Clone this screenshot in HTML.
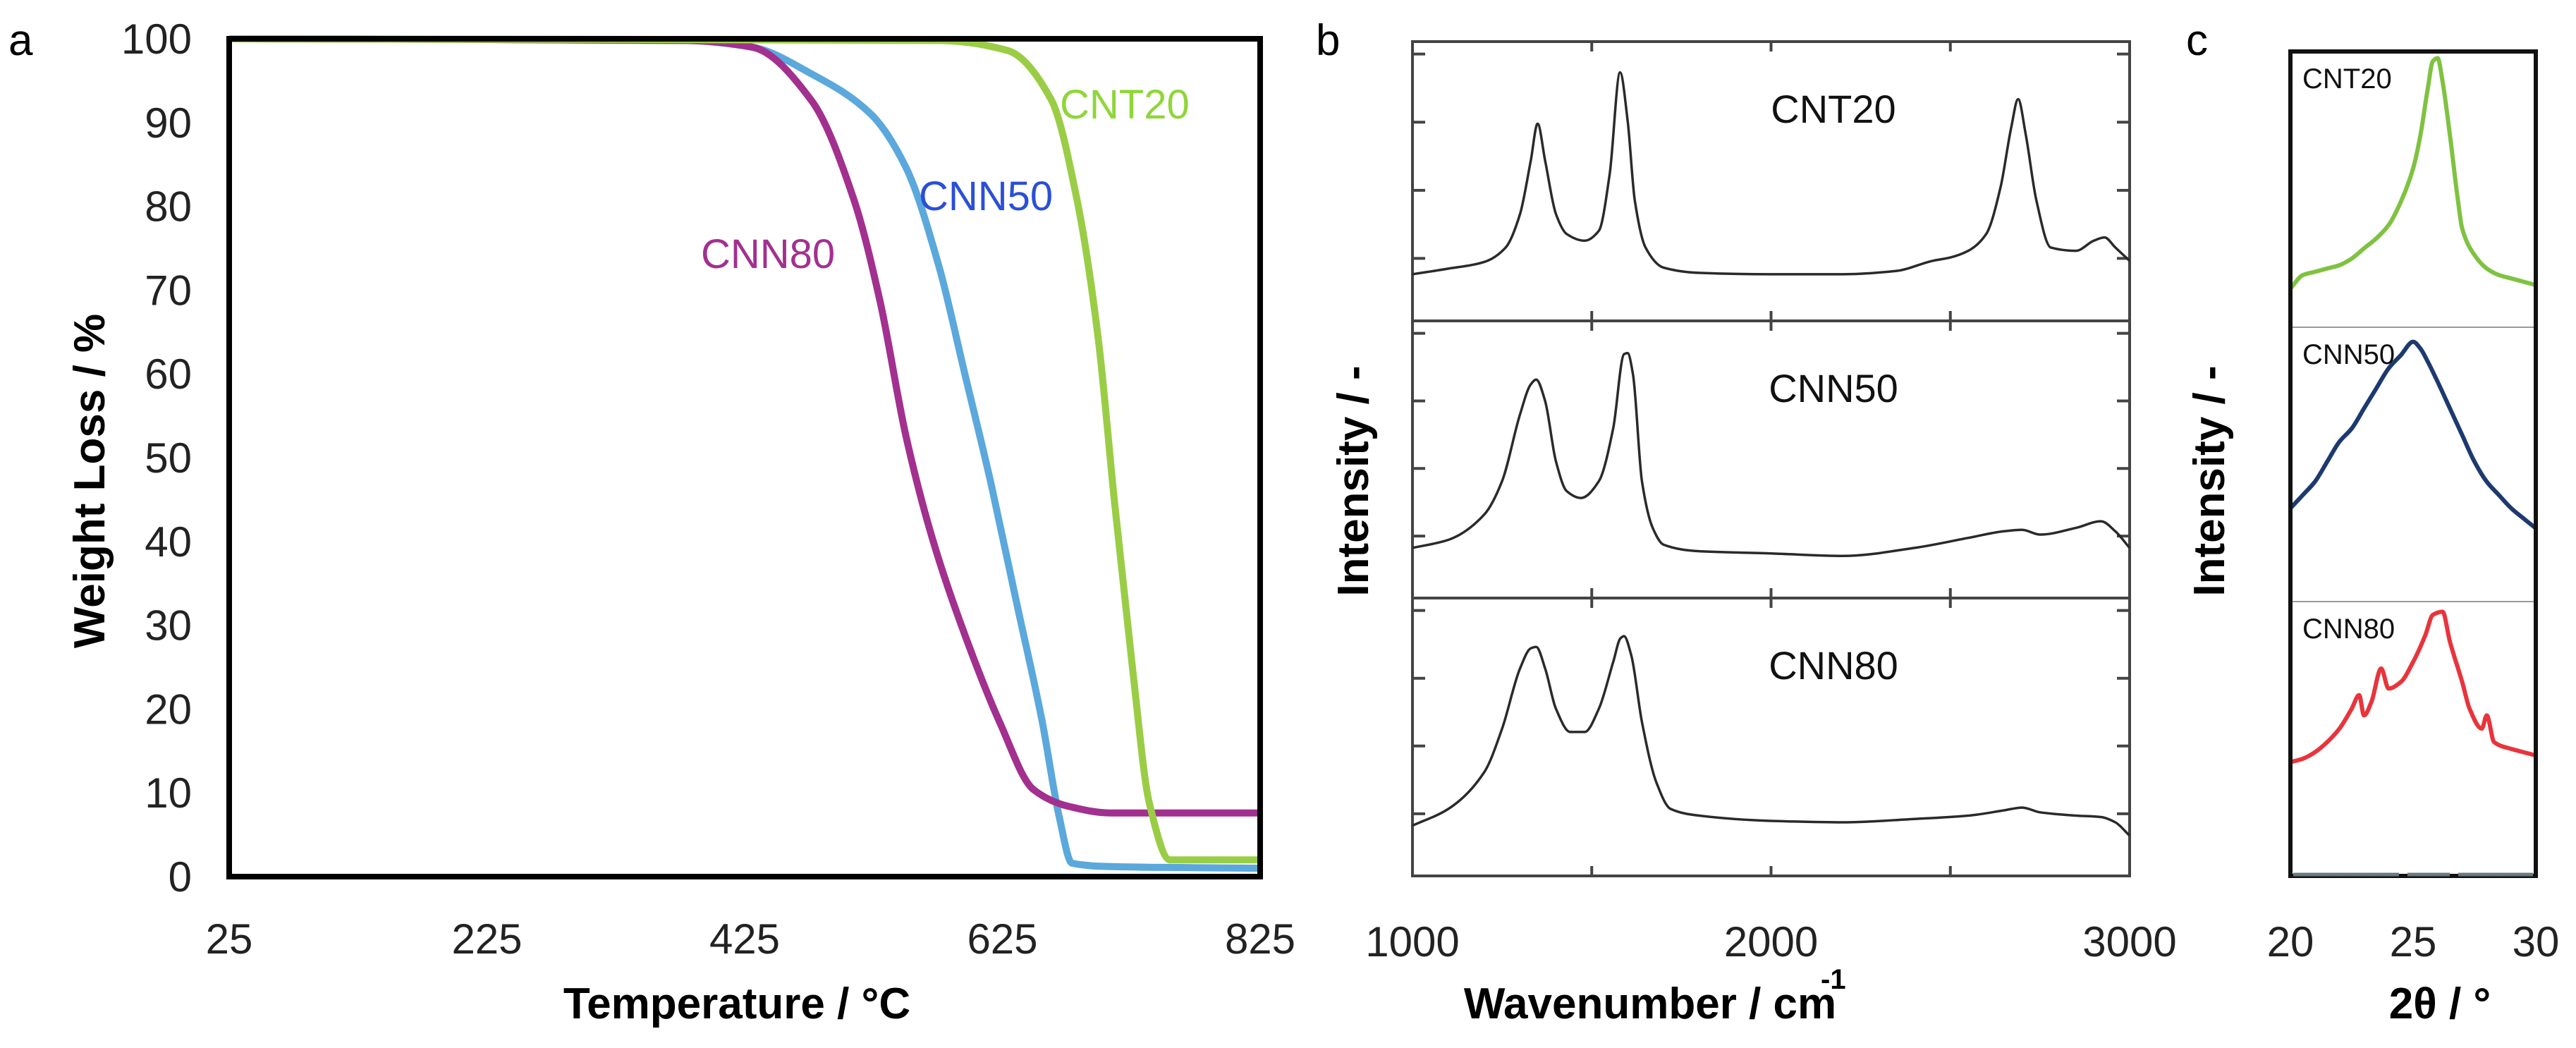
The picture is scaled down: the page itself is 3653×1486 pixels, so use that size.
<!DOCTYPE html>
<html><head><meta charset="utf-8"><style>
html,body{margin:0;padding:0;background:#fff}
svg{display:block}
text{font-family:"Liberation Sans",Arial,sans-serif}
</style></head><body>
<svg id="fig" width="3653" height="1486" viewBox="0 0 3653 1486" xmlns="http://www.w3.org/2000/svg">
<rect width="3653" height="1486" fill="#fff"/>
<g id="pa"></g>
<g id="pb"></g>
<g id="pc"></g>
</svg>
<script>
// ---- Panel a data (TGA) ----
const tgaXTicks = [25, 225, 425, 625, 825];
const tgaYTicks = [0, 10, 20, 30, 40, 50, 60, 70, 80, 90, 100];
const cnn80T = [25, 380, 431, 477, 510, 530, 550, 570, 596, 623, 649, 676, 709, 825];
const cnn80W = [100, 99.8, 99, 92.6, 80.7, 68.7, 52.7, 40.7, 28.8, 18.4, 10.4, 8.4, 7.6, 7.6];
const cnn50T = [25, 378, 431, 477, 523, 550, 576, 596, 616, 636, 656, 669, 679, 709, 825];
const cnn50W = [100, 99.8, 99, 95.8, 91, 84.7, 72.7, 59.9, 47, 32.7, 18.4, 7.2, 1.6, 1.2, 1.0];
const cnt20T = [25, 576, 629, 663, 683, 699, 712, 726, 739, 755, 825];
const cnt20W = [100, 99.8, 98.6, 92.7, 80.7, 64.7, 44.7, 24.8, 8.8, 2, 2];

// ---- Panel b data (Raman) ----
const ramanXTicks = [1000, 2000, 3000];
const ramanCnt20Wn = [1000,1100,1200,1260,1300,1330,1349,1370,1400,1430,1480,1520,1550,1579,1600,1620,1650,1700,1800,2000,2200,2350,2450,2500,2550,2600,2640,2670,2689,2710,2740,2780,2850,2900,2930,2960,3000];
const ramanCnt20I = [.167,.187,.211,.263,.383,.574,.706,.574,.383,.311,.287,.323,.526,.890,.718,.431,.263,.191,.172,.167,.167,.179,.215,.227,.251,.311,.478,.694,.794,.670,.431,.263,.251,.287,.299,.263,.215];
const ramanCnn50Wn = [1000,1100,1200,1250,1300,1330,1345,1370,1400,1430,1470,1520,1560,1590,1600,1615,1640,1670,1700,1800,2000,2200,2400,2550,2650,2700,2750,2850,2920,2960,3000];
const ramanCnn50I = [.181,.210,.301,.422,.663,.771,.788,.711,.494,.386,.361,.422,.614,.880,.884,.807,.422,.253,.193,.169,.161,.152,.181,.217,.241,.246,.229,.253,.277,.241,.181];
const ramanCnn80Wn = [1000,1100,1200,1250,1300,1330,1345,1370,1400,1440,1480,1520,1560,1580,1590,1610,1640,1680,1720,1800,2000,2200,2400,2550,2650,2700,2750,2850,2920,2960,3000];
const ramanCnn80I = [.181,.241,.373,.530,.747,.819,.824,.747,.602,.518,.518,.602,.771,.855,.863,.795,.554,.337,.241,.217,.198,.193,.205,.217,.236,.246,.229,.217,.212,.193,.145];

// ---- Panel c data (XRD) ----
const xrdXTicks = [20, 25, 30];
const xrdCnt20Th = [20,20.5,21,21.5,22,22.5,23,23.5,24,24.5,25,25.3,25.6,25.8,26,26.2,26.5,26.8,27,27.5,28,28.5,29,29.5,30];
const xrdCnt20I = [.140,.189,.201,.213,.225,.249,.286,.322,.370,.455,.576,.697,.867,.964,.976,.891,.697,.479,.358,.262,.213,.189,.177,.165,.153];
const xrdCnn50Th = [20,20.5,21,21.5,22,22.5,23,23.5,24,24.5,25,25.3,25.6,26,26.5,27,27.5,28,28.5,29,29.5,30];
const xrdCnn50I = [.340,.388,.437,.510,.583,.631,.704,.777,.850,.898,.947,.922,.874,.801,.704,.607,.510,.437,.388,.340,.303,.267];
const xrdCnn80Th = [20,20.5,21,21.5,22,22.5,22.8,23,23.3,23.7,24,24.5,25,25.5,25.8,26.2,26.5,27,27.3,27.8,28,28.3,29,29.5,30];
const xrdCnn80I = [.415,.427,.451,.488,.537,.610,.659,.585,.634,.756,.683,.707,.780,.878,.951,.963,.854,.707,.610,.537,.585,.488,.463,.451,.439];

const NS = "http://www.w3.org/2000/svg";
function mk(parent, tag, attrs, txt){
  const e = document.createElementNS(NS, tag);
  for (const k in attrs) e.setAttribute(k, attrs[k]);
  if (txt !== undefined) e.textContent = txt;
  parent.appendChild(e);
  return e;
}
// monotone cubic (Fritsch-Carlson) smoothing through mapped points
function pathD(xs, ys, fx, fy){
  const X = xs.map(fx), Y = ys.map(fy), n = X.length;
  if (n < 3) return X.map((v,i)=>(i?'L':'M')+v+','+Y[i]).join(' ');
  const d = [], m = new Array(n);
  for (let i=0;i<n-1;i++) d.push((Y[i+1]-Y[i])/((X[i+1]-X[i])||1e-6));
  m[0]=d[0]; m[n-1]=d[n-2];
  for (let i=1;i<n-1;i++){
    if (d[i-1]*d[i] <= 0) m[i]=0;
    else { const h0=X[i]-X[i-1], h1=X[i+1]-X[i]; const w1=2*h1+h0, w2=h1+2*h0; m[i]=(w1+w2)/(w1/d[i-1]+w2/d[i]); }
  }
  let s = 'M'+X[0].toFixed(1)+','+Y[0].toFixed(1);
  for (let i=0;i<n-1;i++){
    const h = (X[i+1]-X[i])/3;
    s += ' C'+(X[i]+h).toFixed(1)+','+(Y[i]+m[i]*h).toFixed(1)+' '+(X[i+1]-h).toFixed(1)+','+(Y[i+1]-m[i+1]*h).toFixed(1)+' '+X[i+1].toFixed(1)+','+Y[i+1].toFixed(1);
  }
  return s;
}

// ===== Panel a =====
const pa = document.getElementById('pa');
const aL=325,aR=1787,aT=55,aB=1243;
const ax = t => aL + (t-25)/800*(aR-aL);
const ay = w => aB - w/100*(aB-aT);
let t;
t = mk(pa,'text',{x:12,y:78,'font-size':62},'a');
 
tgaYTicks.forEach(v=>{
  const e = mk(pa,'text',{x:272,y:ay(v)+21,'font-size':60,'text-anchor':'end',fill:'#222'},String(v));
   
});
tgaXTicks.forEach(v=>{
  const e = mk(pa,'text',{x:ax(v),y:1352,'font-size':60,'text-anchor':'middle',fill:'#222'},String(v));
   
});
t = mk(pa,'text',{x:1045,y:1444,'font-size':62,'font-weight':'bold','text-anchor':'middle'},'Temperature / °C');
 
t = mk(pa,'text',{x:0,y:0,'font-size':62,'font-weight':'bold','text-anchor':'middle',transform:'translate(148,682) rotate(-90)'},'Weight Loss / %');
 
[[cnn50T,cnn50W,'#5ba8dc','cnn50-tga-line'],[cnn80T,cnn80W,'#a2308f','cnn80-tga-line'],[cnt20T,cnt20W,'#9acd45','cnt20-tga-line']].forEach(s=>{
  const e = mk(pa,'path',{d:pathD(s[0],s[1],ax,ay),fill:'none',stroke:s[2],'stroke-width':10,'stroke-linejoin':'round'});
   
});
t = mk(pa,'rect',{x:aL,y:aT,width:aR-aL,height:aB-aT,fill:'none',stroke:'#000','stroke-width':8});
 
[['CNT20',1503,168,'#8fd63a'],['CNN50',1303,298,'#2a4fd8'],['CNN80',994,380,'#a2308f']].forEach(s=>{
  const e = mk(pa,'text',{x:s[1],y:s[2],'font-size':58,fill:s[3]},s[0]);
   
});

// ===== Panel b =====
const pb = document.getElementById('pb');
const bL=2003,bR=3020;
const subs = [[59,455],[455,848],[848,1242]];
const bx = w => bL + (w-1000)/2000*(bR-bL);
t = mk(pb,'text',{x:1866,y:78,'font-size':62},'b');
 
const ramanSeries = [[ramanCnt20Wn,ramanCnt20I,'CNT20'],[ramanCnn50Wn,ramanCnn50I,'CNN50'],[ramanCnn80Wn,ramanCnn80I,'CNN80']];
ramanSeries.forEach((s,i)=>{
  const top=subs[i][0], bot=subs[i][1];
  const by = v => bot - v*(bot-top);
  const fr = mk(pb,'rect',{x:bL,y:top,width:bR-bL,height:bot-top,fill:'none',stroke:'#444','stroke-width':4});
   
  for(let k=1;k<=4;k++){
    const yy = bot - k*(bot-top)/4.1 + 8;
    const tk = mk(pb,'path',{d:`M${bL},${yy} h18 M${bR},${yy} h-18`,stroke:'#444','stroke-width':4});
     
  }
  [1500,2000,2500].forEach(w=>{
    const tk = mk(pb,'path',{d:`M${bx(w)},${top} v14 M${bx(w)},${bot} v-14`,stroke:'#444','stroke-width':4});
     
  });
  const ln = mk(pb,'path',{d:pathD(s[0],s[1],bx,by),fill:'none',stroke:'#2a2a2a','stroke-width':3.5,'stroke-linejoin':'round'});
   
  const lb = mk(pb,'text',{x:2600,y:top+115,'font-size':56,'text-anchor':'middle',fill:'#111'},s[2]);
   
});
ramanXTicks.forEach(v=>{
  const e = mk(pb,'text',{x:bx(v),y:1356,'font-size':60,'text-anchor':'middle',fill:'#222'},String(v));
   
});
t = mk(pb,'text',{x:2340,y:1444,'font-size':62,'font-weight':'bold','text-anchor':'middle'},'Wavenumber / cm');
 
t = mk(pb,'text',{x:2582,y:1402,'font-size':40,'font-weight':'bold'},'-1');
 
t = mk(pb,'text',{x:0,y:0,'font-size':62,'font-weight':'bold','text-anchor':'middle',transform:'translate(1940,682) rotate(-90)'},'Intensity / -');
 

// ===== Panel c =====
const pc = document.getElementById('pc');
const cL=3248,cR=3596,cT=73,cB=1242;
const csubs=[[73,464],[464,853],[853,1242]];
const cx = v => cL + (v-20)/10*(cR-cL);
t = mk(pc,'text',{x:3100,y:78,'font-size':62},'c');
 
[464,853].forEach(y=>{
  const e = mk(pc,'line',{x1:cL,x2:cR,y1:y,y2:y,stroke:'#999','stroke-width':2});
   
});
const xrdSeries=[[xrdCnt20Th,xrdCnt20I,'#7fc241','CNT20'],[xrdCnn50Th,xrdCnn50I,'#1d3a6f','CNN50'],[xrdCnn80Th,xrdCnn80I,'#e8343c','CNN80']];
xrdSeries.forEach((s,i)=>{
  const top=csubs[i][0], bot=csubs[i][1];
  const cy = v => bot - v*(bot-top);
  const ln = mk(pc,'path',{d:pathD(s[0],s[1],cx,cy),fill:'none',stroke:s[2],'stroke-width':6,'stroke-linejoin':'round'});
   
  const lb = mk(pc,'text',{x:3265,y:top+52,'font-size':40,fill:'#111'},s[3]);
   
});
t = mk(pc,'rect',{x:cL,y:cT,width:cR-cL,height:cB-cT,fill:'none',stroke:'#111','stroke-width':6});
 
t = mk(pc,'line',{x1:cL+4,x2:cR-4,y1:cB-2,y2:cB-2,stroke:'#6a7a80','stroke-width':5,'stroke-dasharray':'150 12 60 12 130'});
 
xrdXTicks.forEach(v=>{
  const e = mk(pc,'text',{x:cx(v),y:1356,'font-size':60,'text-anchor':'middle',fill:'#222'},String(v));
   
});
t = mk(pc,'text',{x:3460,y:1444,'font-size':62,'font-weight':'bold','text-anchor':'middle'},'2θ / °');
 
t = mk(pc,'text',{x:0,y:0,'font-size':62,'font-weight':'bold','text-anchor':'middle',transform:'translate(3154,682) rotate(-90)'},'Intensity / -');
 
</script>
</body></html>
